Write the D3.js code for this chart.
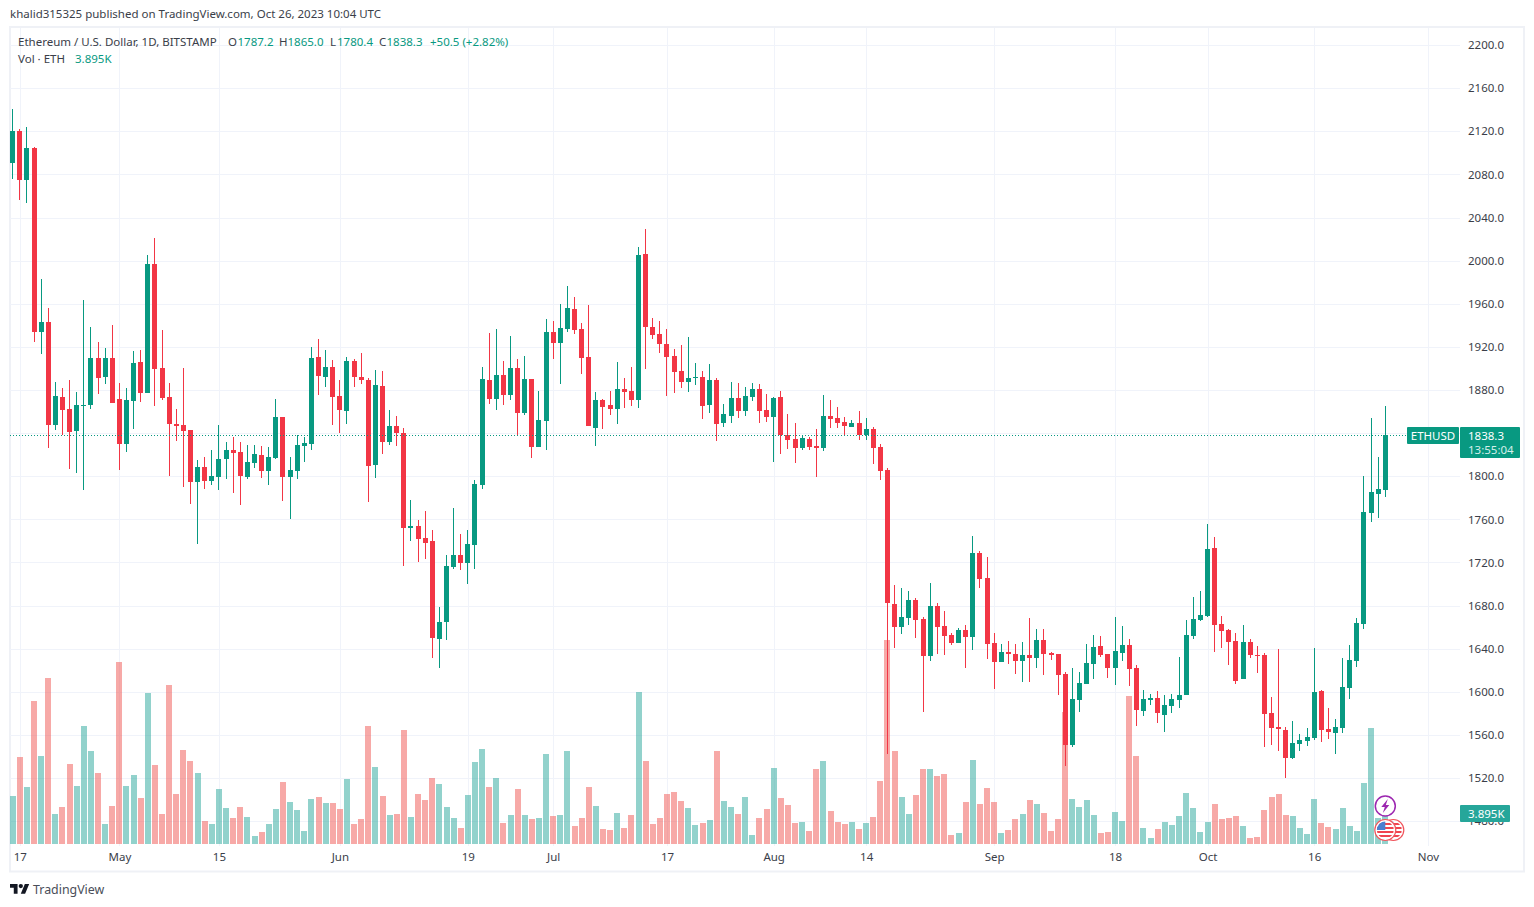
<!DOCTYPE html>
<html>
<head>
<meta charset="utf-8">
<title>ETHUSD</title>
<script src="https://cdn.jsdelivr.net/npm/d3@7"></script>
<style>
  html, body { margin: 0; padding: 0; background: #fff; }
  svg { display: block; }
  text { font-family: "Noto Sans", sans-serif; }
</style>
</head>
<body>
<div id="chart"></div>
<script>
// Daily candles, Apr 16 to Oct 26 2023
const opens = [
  2090.9,2120.3,2075.1,2104.5,1934.1,1943.0,1847.8,1873.5,1862.3,1841.9,
  1865.1,1866.0,1909.6,1892.0,1909.6,1871.6,1829.9,1869.8,1905.9,1877.2,
  1996.9,1900.4,1873.5,1848.4,1847.5,1842.8,1794.6,1808.5,1795.5,1799.2,
  1815.9,1824.3,1822.4,1799.2,1812.2,1819.7,1804.8,1816.9,1854.9,1799.2,
  1804.8,1828.0,1829.9,1910.6,1892.0,1901.3,1874.4,1860.5,1906.9,1892.0,
  1889.3,1810.4,1883.7,1831.7,1846.6,1840.1,1751.9,1753.8,1742.7,1739.9,
  1648.9,1664.7,1715.8,1726.9,1719.5,1736.2,1791.8,1889.3,1871.6,1893.9,
  1875.3,1900.4,1858.6,1890.2,1827.1,1851.2,1933.8,1923.6,1936.6,1955.1,
  1936.6,1910.6,1844.7,1870.7,1866.1,1862.3,1880.9,1879.0,1870.7,2006.2,
  1938.4,1931.9,1922.7,1911.5,1897.6,1887.4,1891.1,1892.0,1866.0,1889.2,
  1849.3,1855.8,1872.5,1860.5,1873.5,1880.9,1861.4,1854.9,1873.5,1838.2,
  1834.5,1826.2,1834.5,1828.0,1826.2,1855.8,1854.0,1850.3,1845.6,1849.3,
  1838.2,1843.8,1827.1,1805.7,1681.4,1660.1,1668.4,1685.1,1667.5,1633.2,
  1679.6,1661.0,1652.7,1645.2,1657.3,1650.8,1728.7,1705.5,1645.2,1627.6,
  1636.9,1635.0,1628.6,1634.1,1631.3,1648.0,1636.0,1635.1,1616.5,1550.6,
  1592.4,1607.2,1625.8,1642.5,1635.1,1622.1,1636.0,1643.4,1622.1,1582.2,
  1592.4,1594.2,1578.5,1586.8,1592.4,1597.0,1651.8,1666.6,1670.3,1733.4,
  1662.9,1657.3,1647.1,1611.9,1646.2,1634.1,1634.1,1580.3,1567.3,1564.5,
  1538.6,1551.6,1554.3,1557.1,1600.7,1565.5,1561.8,1566.4,1603.5,1628.6,
  1662.9,1765.9,1783.5,1787.2
];
const highs = [
  2140.7,2122.1,2124.0,2105.4,1982.9,1956.0,1887.4,1881.8,1889.2,1878.1,
  1963.5,1938.4,1924.5,1918.9,1940.3,1886.4,1881.8,1916.1,1917.1,2005.2,
  2021.0,1935.6,1886.4,1862.3,1900.4,1842.8,1815.0,1817.8,1824.3,1847.5,
  1831.7,1836.4,1831.7,1828.9,1828.9,1828.0,1827.1,1871.6,1854.9,1817.8,
  1838.2,1836.4,1919.9,1927.3,1917.1,1907.8,1889.2,1910.6,1908.7,1914.3,
  1891.1,1898.5,1897.6,1861.4,1855.8,1844.7,1777.9,1759.4,1767.7,1750.1,
  1678.6,1726.9,1770.5,1746.4,1750.1,1796.5,1901.3,1932.9,1936.6,1906.9,
  1930.1,1908.7,1911.5,1890.2,1879.0,1945.8,1944.0,1959.8,1976.5,1966.3,
  1942.1,1958.8,1878.1,1871.6,1879.0,1905.9,1891.1,1901.3,2012.6,2029.3,
  1946.8,1944.0,1936.6,1918.0,1921.7,1929.1,1905.0,1897.6,1904.1,1891.1,
  1867.0,1887.4,1886.5,1882.7,1886.5,1885.5,1876.3,1873.5,1879.0,1857.7,
  1849.3,1838.2,1836.4,1843.8,1875.3,1870.7,1864.2,1854.9,1852.1,1860.5,
  1854.0,1845.6,1829.9,1807.6,1699.0,1696.3,1693.5,1687.0,1669.4,1700.9,
  1682.3,1674.9,1654.5,1659.1,1661.9,1744.5,1730.6,1725.0,1654.5,1644.3,
  1647.1,1644.3,1646.2,1668.5,1658.3,1658.3,1636.9,1635.1,1618.4,1622.1,
  1618.4,1644.3,1652.7,1651.8,1635.1,1669.4,1661.0,1649.0,1624.9,1601.7,
  1597.9,1600.7,1597.0,1597.9,1632.3,1666.6,1687.9,1693.5,1755.7,1743.6,
  1670.3,1658.3,1654.5,1662.0,1649.0,1642.5,1636.0,1595.2,1639.7,1567.3,
  1572.9,1560.8,1566.4,1640.6,1601.7,1585.0,1574.8,1631.3,1643.4,1668.5,
  1800.2,1854.0,1817.8,1865.0
];
const lows = [
  2075.7,2056.2,2053.5,1924.8,1913.4,1826.1,1842.8,1838.2,1806.7,1802.9,
  1787.2,1862.3,1876.2,1885.5,1867.9,1805.7,1822.4,1843.8,1868.8,1877.2,
  1865.1,1870.7,1800.2,1832.6,1790.0,1774.2,1737.1,1788.1,1791.8,1787.2,
  1797.4,1784.4,1773.3,1797.4,1807.6,1798.3,1791.8,1815.9,1777.0,1760.3,
  1797.4,1813.2,1824.3,1875.3,1882.7,1847.5,1840.1,1848.4,1882.8,1885.5,
  1776.1,1798.3,1820.6,1828.9,1828.0,1716.7,1739.9,1720.4,1723.2,1631.3,
  1622.0,1648.0,1713.9,1713.0,1700.0,1713.9,1788.1,1867.0,1861.4,1866.1,
  1870.7,1837.3,1856.8,1816.9,1827.1,1824.3,1908.7,1885.5,1933.8,1931.9,
  1894.8,1846.6,1828.0,1843.8,1856.8,1848.4,1863.3,1865.1,1863.3,1899.5,
  1927.3,1914.3,1874.4,1877.2,1881.8,1878.1,1884.6,1853.1,1858.6,1832.6,
  1845.6,1849.3,1854.0,1855.8,1869.8,1849.3,1850.3,1813.2,1820.6,1825.2,
  1812.2,1824.3,1824.3,1799.2,1823.4,1844.7,1844.7,1837.3,1845.6,1833.6,
  1833.6,1811.3,1796.5,1542.2,1640.6,1653.6,1661.9,1649.9,1581.2,1628.5,
  1635.0,1634.1,1643.4,1645.2,1622.0,1638.7,1696.3,1630.4,1602.5,1627.6,
  1625.7,1616.5,1609.1,1609.1,1622.1,1615.6,1629.5,1597.0,1531.1,1548.8,
  1581.2,1607.2,1611.9,1632.3,1612.8,1606.3,1628.6,1605.4,1568.3,1577.5,
  1587.7,1571.0,1562.7,1580.3,1585.0,1597.0,1649.0,1665.7,1669.4,1636.9,
  1640.6,1624.9,1607.2,1611.9,1631.3,1617.4,1548.8,1550.6,1545.1,1520.0,
  1537.6,1545.1,1549.7,1555.3,1553.4,1556.2,1542.3,1561.8,1593.3,1623.0,
  1658.3,1757.5,1761.2,1780.4
];
const closes = [
  2120.3,2075.1,2104.5,1934.1,1943.0,1847.8,1874.4,1861.4,1841.0,1866.0,
  1866.0,1909.6,1891.1,1909.6,1867.9,1829.9,1870.7,1905.0,1877.2,1996.9,
  1899.4,1872.5,1848.4,1846.6,1841.9,1794.6,1808.5,1795.5,1800.2,1815.9,
  1824.3,1821.5,1800.2,1813.2,1820.6,1804.8,1817.8,1854.9,1799.2,1805.7,
  1828.9,1830.8,1909.6,1892.9,1901.3,1873.5,1861.4,1906.9,1892.0,1889.3,
  1809.5,1884.6,1831.7,1846.6,1840.1,1751.9,1753.8,1741.7,1738.0,1649.9,
  1664.7,1716.7,1726.9,1719.5,1737.1,1792.8,1890.2,1871.6,1893.9,1875.3,
  1900.4,1858.6,1890.2,1827.1,1852.1,1933.8,1923.6,1937.5,1956.1,1935.6,
  1909.7,1846.6,1870.7,1864.2,1862.3,1880.9,1878.1,1870.7,2005.2,1938.4,
  1931.0,1922.7,1910.6,1896.7,1887.4,1891.1,1892.0,1865.1,1889.2,1848.4,
  1857.7,1872.5,1860.5,1874.4,1880.9,1860.5,1854.9,1872.5,1838.2,1833.6,
  1826.2,1835.4,1827.1,1826.2,1855.8,1853.1,1849.3,1846.6,1849.3,1838.2,
  1843.8,1826.2,1804.8,1682.3,1660.1,1669.4,1685.1,1666.6,1633.2,1679.6,
  1660.1,1651.7,1645.2,1657.3,1650.8,1728.7,1704.6,1644.3,1627.6,1636.9,
  1635.0,1628.5,1634.1,1631.3,1648.0,1635.1,1634.1,1615.6,1550.6,1593.3,
  1608.1,1626.7,1641.6,1634.1,1622.1,1637.8,1643.4,1621.1,1583.1,1593.3,
  1594.2,1580.3,1587.7,1593.3,1597.0,1652.7,1667.5,1671.2,1732.5,1662.0,
  1656.4,1646.2,1610.0,1646.2,1634.1,1633.2,1579.4,1566.4,1565.5,1538.6,
  1552.5,1555.3,1558.1,1599.8,1564.5,1562.7,1567.3,1604.4,1629.5,1663.8,
  1766.8,1785.4,1788.1,1838.3
];
// Volume in thousands of ETH
const volumes = [
  6.09,11.04,7.23,18.15,11.17,21.07,3.81,4.70,10.15,7.36,
  14.97,11.80,9.01,2.54,4.82,23.10,7.36,8.76,5.84,19.16,
  10.03,3.81,20.18,6.35,11.93,10.53,9.01,2.92,2.54,6.98,
  4.57,3.30,4.70,3.43,1.02,1.52,2.54,4.44,7.87,5.33,
  4.31,1.65,5.71,5.96,5.20,5.20,4.44,8.25,2.54,3.17,
  14.97,9.77,6.09,3.68,3.81,14.47,3.43,6.35,5.58,8.38,
  7.61,4.70,3.30,2.03,6.22,10.41,12.06,7.23,8.38,2.66,
  3.68,6.98,3.68,3.17,3.30,11.42,3.55,3.68,11.80,2.28,
  3.30,7.23,4.82,1.90,1.78,3.93,2.03,3.68,19.29,10.53,
  2.54,3.30,6.35,6.60,5.46,4.57,2.41,2.66,3.05,11.80,
  5.46,4.70,3.81,5.96,1.14,3.30,4.44,9.64,5.84,4.95,
  2.66,2.79,1.65,9.52,10.53,4.19,2.79,2.54,2.79,1.90,
  2.66,3.43,7.99,25.89,11.80,5.96,3.81,6.22,9.52,9.52,
  8.63,8.88,1.14,1.40,5.33,10.66,5.08,7.11,5.33,1.40,
  1.78,3.17,3.81,5.58,5.08,3.93,1.65,3.17,16.75,5.71,
  4.70,5.58,3.68,1.40,1.52,4.06,2.92,18.78,11.17,2.03,
  0.76,1.90,2.79,2.41,3.55,6.47,4.57,1.52,2.79,5.08,
  3.17,3.30,3.55,2.28,0.76,0.89,4.31,5.96,6.35,3.68,
  3.55,2.03,1.27,5.71,2.66,2.16,1.90,4.57,2.28,1.65,
  7.74,14.72,3.26,3.895
];
const priceTicks = [1480,1520,1560,1600,1640,1680,1720,1760,1800,1840,1880,1920,1960,
  2000,2040,2080,2120,2160,2200];
const dateTicks = ['2023-04-17','2023-05-01','2023-05-15','2023-06-01','2023-06-19','2023-07-01','2023-07-17',
  '2023-08-01','2023-08-14','2023-09-01','2023-09-18','2023-10-01','2023-10-16','2023-11-01'];
const dateLabels = ['17','May','15','Jun','19','Jul','17','Aug','14','Sep','18','Oct','16','Nov'];

const days = d3.utcDay.range(new Date(Date.UTC(2023, 3, 16)), new Date(Date.UTC(2023, 9, 27)));
const candles = days.map((date, i) => ({
  date, open: opens[i], high: highs[i], low: lows[i], close: closes[i], volume: volumes[i]
}));
const lastCandle = candles[candles.length - 1];

const width = 1534;
const height = 907;
const pane = { left: 10, right: 1460, top: 28, bottom: 846 };
const upColor = '#089981';
const downColor = '#f23645';
const gridColor = '#f0f3fa';
const textColor = '#3a3e49';
const labelSize = '11.5px';

const svg = d3.select('#chart').append('svg')
  .attr('width', width)
  .attr('height', height);

const x = d3.scaleUtc()
  .domain([days[0], lastCandle.date])
  .range([12.7, 1385.3]);

const y = d3.scaleLinear()
  .domain([1520, 2120])
  .range([778, 131.3]);

const yVol = d3.scaleLinear()
  .domain([0, d3.max(volumes)])
  .range([844, 640]);

const isUp = d => d.close >= d.open;
const tickDates = dateTicks.map(d => new Date(d + 'T00:00:00Z'));

// Outer frame
svg.append('rect')
  .attr('x', 10).attr('y', 27)
  .attr('width', 1514).attr('height', 844.5)
  .attr('fill', '#fff')
  .attr('stroke', '#eff1f6')
  .attr('stroke-width', 2);

svg.append('clipPath').attr('id', 'pane')
  .append('rect')
  .attr('x', pane.left).attr('y', pane.top)
  .attr('width', pane.right - pane.left).attr('height', pane.bottom - pane.top);

// Grid
svg.append('g').selectAll('line')
  .data(priceTicks)
  .join('line')
  .attr('x1', pane.left).attr('x2', pane.right)
  .attr('y1', d => Math.round(y(d)) + 0.5)
  .attr('y2', d => Math.round(y(d)) + 0.5)
  .attr('stroke', gridColor);

svg.append('g').selectAll('line')
  .data(tickDates)
  .join('line')
  .attr('x1', d => Math.round(x(d)) + 0.5)
  .attr('x2', d => Math.round(x(d)) + 0.5)
  .attr('y1', pane.top).attr('y2', pane.bottom)
  .attr('stroke', gridColor);

const plot = svg.append('g').attr('clip-path', 'url(#pane)');

// Volume bars sit under the candles
plot.append('g').selectAll('rect')
  .data(candles)
  .join('rect')
  .attr('x', d => Math.round(x(d.date) - 3))
  .attr('width', 6)
  .attr('y', d => yVol(d.volume))
  .attr('height', d => yVol(0) - yVol(d.volume))
  .attr('fill', d => isUp(d) ? '#26a69a' : '#ef5350')
  .attr('fill-opacity', 0.5)
  .attr('shape-rendering', 'crispEdges');

// Last price line
svg.append('line')
  .attr('x1', pane.left).attr('x2', 1407)
  .attr('y1', Math.round(y(lastCandle.close)) + 0.5)
  .attr('y2', Math.round(y(lastCandle.close)) + 0.5)
  .attr('stroke', upColor)
  .attr('stroke-dasharray', '1 2');

// Wicks
plot.append('g').selectAll('line')
  .data(candles)
  .join('line')
  .attr('x1', d => Math.round(x(d.date) - 0.5) + 0.5)
  .attr('x2', d => Math.round(x(d.date) - 0.5) + 0.5)
  .attr('y1', d => y(d.high))
  .attr('y2', d => y(d.low))
  .attr('stroke', d => isUp(d) ? upColor : downColor)
  .attr('shape-rendering', 'crispEdges');

// Bodies
plot.append('g').selectAll('rect')
  .data(candles)
  .join('rect')
  .attr('x', d => Math.round(x(d.date) - 0.5) - 2)
  .attr('width', 5)
  .attr('y', d => y(Math.max(d.open, d.close)))
  .attr('height', d => Math.max(1, Math.abs(y(d.open) - y(d.close))))
  .attr('fill', d => isUp(d) ? upColor : downColor)
  .attr('shape-rendering', 'crispEdges');

// Price axis
const priceAxis = svg.append('g')
  .attr('transform', 'translate(1468,0)')
  .call(d3.axisRight(y).tickValues(priceTicks).tickSize(0).tickPadding(0).tickFormat(d3.format('.1f')));
priceAxis.select('.domain').remove();
priceAxis.selectAll('text')
  .attr('fill', textColor)
  .style('font-size', labelSize);

// Time axis
const timeAxis = svg.append('g')
  .attr('transform', 'translate(0,853)')
  .call(d3.axisBottom(x).tickValues(tickDates).tickSize(0).tickPadding(0)
    .tickFormat((d, i) => dateLabels[i]));
timeAxis.select('.domain').remove();
timeAxis.selectAll('text')
  .attr('fill', textColor)
  .style('font-size', labelSize);

// Publisher line
svg.append('text')
  .attr('x', 10).attr('y', 18)
  .attr('fill', textColor)
  .style('font-size', labelSize)
  .text('khalid315325 published on TradingView.com, Oct 26, 2023 10:04 UTC');

// Legend, label/value runs are placed one by one
const legend = [
  { x: 18, y: 46, t: 'Ethereum / U.S. Dollar, 1D, BITSTAMP', c: textColor },
  { x: 228, y: 46, t: 'O', c: textColor },
  { x: 237.5, y: 46, t: '1787.2', c: upColor },
  { x: 279, y: 46, t: 'H', c: textColor },
  { x: 287.5, y: 46, t: '1865.0', c: upColor },
  { x: 330, y: 46, t: 'L', c: textColor },
  { x: 337, y: 46, t: '1780.4', c: upColor },
  { x: 379, y: 46, t: 'C', c: textColor },
  { x: 386.5, y: 46, t: '1838.3', c: upColor },
  { x: 430, y: 46, t: '+50.5 (+2.82%)', c: upColor },
  { x: 18, y: 63, t: 'Vol · ETH', c: textColor },
  { x: 75, y: 63, t: '3.895K', c: upColor }
];
svg.append('g').selectAll('text')
  .data(legend)
  .join('text')
  .attr('x', d => d.x)
  .attr('y', d => d.y)
  .attr('fill', d => d.c)
  .style('font-size', labelSize)
  .text(d => d.t);

// Last price tags
svg.append('rect').attr('x', 1407).attr('y', 427).attr('width', 52).attr('height', 17).attr('rx', 1).attr('fill', upColor);
svg.append('text').attr('x', 1433).attr('y', 440).attr('text-anchor', 'middle').attr('fill', '#fff')
  .style('font-size', labelSize).text('ETHUSD');
svg.append('rect').attr('x', 1460).attr('y', 427).attr('width', 60).attr('height', 31).attr('rx', 1).attr('fill', upColor);
svg.append('text').attr('x', 1468).attr('y', 440).attr('fill', '#fff')
  .style('font-size', labelSize).text('1838.3');
svg.append('text').attr('x', 1468).attr('y', 454).attr('fill', '#d5efea')
  .style('font-size', labelSize).text('13:55:04');

// Volume tag
svg.append('rect').attr('x', 1460).attr('y', 805).attr('width', 50).attr('height', 17).attr('rx', 1).attr('fill', '#26a69a');
svg.append('text').attr('x', 1468).attr('y', 818).attr('fill', '#fff')
  .style('font-size', labelSize).text('3.895K');

// Event icons on the last bar
const icons = svg.append('g').attr('transform', `translate(${x(lastCandle.date)},0)`);
icons.append('circle').attr('cy', 806).attr('r', 10).attr('fill', '#fff').attr('stroke', '#9c27b0').attr('stroke-width', 1.5);
icons.append('path').attr('d', 'M2.5,799 L-4,807 L-0.5,807 L-2.5,813 L4,805 L0.5,805 Z').attr('fill', '#9c27b0');

function flag(cx, cy) {
  const g = icons.append('g').attr('transform', `translate(${cx},${cy})`);
  const id = 'flag' + cx;
  g.append('circle').attr('r', 10.5).attr('fill', '#fff').attr('stroke', '#f0545c').attr('stroke-width', 1.2);
  g.append('clipPath').attr('id', id).append('circle').attr('r', 8.5);
  const inner = g.append('g').attr('clip-path', `url(#${id})`);
  inner.append('rect').attr('x', -9).attr('y', -9).attr('width', 18).attr('height', 18).attr('fill', '#fff');
  [-6, -2, 2, 6].forEach(s => inner.append('rect').attr('x', -9).attr('y', s - 1).attr('width', 18).attr('height', 2).attr('fill', '#f0444f'));
  inner.append('rect').attr('x', -9).attr('y', -9).attr('width', 9).attr('height', 9).attr('fill', '#4a7fd0');
}
flag(8, 830);
flag(0, 830);

// Logo and wordmark
const logo = svg.append('g').attr('transform', 'translate(10,881.8) scale(0.54)');
logo.append('path').attr('d', 'M14 22H7V11H0V4h14v18zM28 22h-8l7.5-18h8L28 22z').attr('fill', '#131722');
logo.append('circle').attr('cx', 20).attr('cy', 8).attr('r', 4).attr('fill', '#131722');
svg.append('text')
  .attr('x', 33).attr('y', 894)
  .attr('fill', '#4a4e59')
  .style('font-size', '12.4px')
  .text('TradingView');
</script>
</body>
</html>
